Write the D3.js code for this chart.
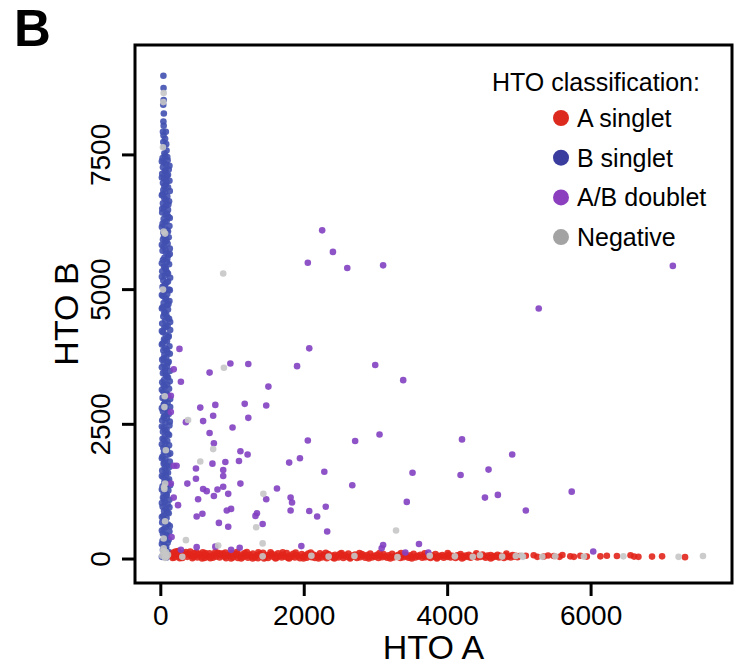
<!DOCTYPE html>
<html>
<head>
<meta charset="utf-8">
<script src="https://cdn.jsdelivr.net/npm/d3@7"></script>
<style>
    body { margin: 0; background: #fff; }
    svg { display: block; font-family: "Liberation Sans", Arial, sans-serif; }
</style>
</head>
<body>
<div class="container"></div>
<script>
const width = 735;
const height = 666;
const box = { left: 135, right: 732, top: 45, bottom: 583 };

const xTicks = [0, 2000, 4000, 6000];
const yTicks = [0, 2500, 5000, 7500];
const classNames = ['A singlet', 'B singlet', 'A/B doublet', 'Negative'];
const legendColors = ['#dd2a1e', '#3a3c9e', '#8b3fbf', '#a3a3a3'];
const pointColors = ['#e2251b', '#4150b0', '#8340c2', '#c6c6c6'];

// B singlets: narrow column at HTO A ~ 0
const bSinglet = [
    [36, 8970], [38, 8740], [40, 8520], [34, 8430], [42, 8270], [36, 8120], [40, 8040], [30, 7930],
    [70, 7930], [38, 7860], [60, 7800], [35, 7740], [75, 7700], [45, 7650], [80, 7580], [50, 7530],
    [60, 7480], [25, 7440], [95, 7400], [40, 7360], [75, 7320], [30, 7270], [110, 7230], [55, 7190],
    [20, 7150], [85, 7110], [45, 7060], [120, 7020], [30, 6980], [70, 6940], [100, 6900], [35, 6850],
    [60, 6810], [25, 6770], [90, 6730], [50, 6690], [115, 6640], [30, 6600], [75, 6560], [45, 6520],
    [100, 6480], [20, 6430], [65, 6390], [105, 6350], [40, 6310], [80, 6270], [25, 6220], [120, 6180],
    [55, 6140], [90, 6100], [35, 6060], [70, 6010], [110, 5970], [30, 5930], [60, 5890], [95, 5850],
    [40, 5800], [125, 5760], [25, 5720], [75, 5680], [105, 5640], [50, 5590], [30, 5550], [85, 5510],
    [115, 5470], [45, 5430], [70, 5380], [20, 5340], [100, 5300], [55, 5260], [130, 5220], [35, 5170],
    [80, 5130], [60, 5090], [25, 5050], [110, 5000], [45, 4960], [90, 4920], [30, 4880], [65, 4840],
    [120, 4790], [40, 4750], [85, 4710], [25, 4670], [100, 4630], [55, 4580], [75, 4540], [35, 4500],
    [115, 4460], [60, 4420], [20, 4370], [95, 4330], [50, 4290], [130, 4250], [30, 4210], [70, 4160],
    [105, 4120], [45, 4080], [85, 4040], [25, 4000], [120, 3950], [60, 3910], [35, 3870], [95, 3830],
    [50, 3790], [75, 3740], [20, 3700], [110, 3660], [40, 3620], [85, 3580], [60, 3530], [125, 3490],
    [30, 3450], [70, 3410], [100, 3370], [45, 3320], [20, 3280], [90, 3240], [55, 3200], [115, 3160],
    [35, 3110], [75, 3070], [105, 3030], [25, 2990], [60, 2950], [95, 2900], [40, 2860], [130, 2820],
    [70, 2780], [30, 2740], [110, 2690], [50, 2650], [85, 2610], [20, 2570], [65, 2530], [120, 2480],
    [40, 2440], [80, 2400], [30, 2360], [100, 2320], [55, 2270], [25, 2230], [90, 2190], [60, 2150],
    [115, 2110], [35, 2060], [75, 2020], [45, 1980], [105, 1940], [25, 1900], [65, 1850], [125, 1810],
    [40, 1770], [85, 1730], [55, 1690], [20, 1640], [100, 1600], [70, 1560], [35, 1520], [115, 1480],
    [50, 1430], [90, 1390], [25, 1350], [60, 1310], [105, 1270], [40, 1220], [80, 1180], [30, 1140],
    [120, 1100], [55, 1060], [95, 1010], [25, 970], [70, 930], [45, 890], [110, 850], [35, 800],
    [80, 760], [55, 720], [20, 680], [100, 640], [65, 590], [40, 550], [120, 510], [30, 470],
    [85, 430], [55, 380], [25, 340], [95, 300], [45, 260], [75, 220], [30, 170], [110, 130], [60, 90],
    [90, 7460], [15, 7380], [120, 7300], [65, 7210], [100, 7130], [15, 7080], [80, 7000], [50, 6920],
    [125, 6830], [15, 6750], [70, 6660], [105, 6580], [20, 6500], [85, 6410], [125, 6330], [55, 6250],
    [15, 6160], [100, 6080], [45, 5990], [80, 5910], [15, 5830], [65, 5740], [125, 5660], [90, 5570],
    [15, 5490], [60, 5410], [85, 5320], [15, 5240], [100, 5150], [50, 5070], [125, 4990], [15, 4900],
    [75, 4820], [105, 4730], [15, 4650], [50, 4560], [90, 4480], [130, 4400], [70, 4310], [15, 4230],
    [110, 4140], [60, 4060], [15, 3980], [80, 3890], [125, 3810], [40, 3720], [95, 3640], [15, 3560],
    [55, 3470], [85, 3390], [125, 3300], [40, 3220], [15, 3140], [90, 3050], [130, 2970], [50, 2880],
    [15, 2800], [95, 2720], [40, 2630], [125, 2550], [15, 2460], [60, 2380], [115, 2300], [45, 2210],
    [15, 2130], [85, 2040], [130, 1960], [15, 1870], [50, 1790], [120, 1710], [70, 1620], [15, 1540],
    [90, 1450], [130, 1370], [15, 1290], [80, 1200], [45, 1120], [15, 1040], [120, 960], [90, 870],
    [15, 780], [60, 700], [125, 610], [15, 530], [70, 450], [110, 360], [15, 280], [65, 190],
    [120, 100], [15, 40], [80, 30]
];

// A singlets: row at HTO B ~ 0
const aSinglet = [
    [150, 60], [175, 120], [190, 30], [215, 85], [240, 150], [255, 45], [280, 100], [300, 20],
    [325, 70], [350, 130], [370, 40], [395, 95], [420, 55], [440, 15], [465, 110], [490, 65],
    [510, 30], [540, 90], [560, 50], [585, 125], [610, 20], [630, 75], [655, 40], [680, 105],
    [700, 60], [725, 25], [750, 85], [770, 45], [795, 115], [820, 30], [840, 70], [865, 100],
    [890, 40], [910, 15], [935, 80], [960, 55], [985, 110], [1005, 30], [1030, 65], [1055, 95],
    [1075, 20], [1100, 50], [1125, 85], [1145, 35], [1170, 110], [1195, 60], [1215, 25], [1240, 80],
    [1265, 45], [1285, 100], [1310, 30], [1335, 70], [1355, 15], [1380, 90], [1405, 50], [1425, 115],
    [1450, 35], [1475, 75], [1495, 20], [1520, 60], [1545, 95], [1565, 40], [1590, 80], [1615, 25],
    [1635, 105], [1660, 55], [1685, 30], [1705, 85], [1730, 45], [1755, 110], [1775, 20], [1800, 65],
    [1825, 40], [1845, 95], [1870, 30], [1895, 75], [1915, 50], [1940, 15], [1965, 90], [1985, 40],
    [2010, 70], [2035, 25], [2055, 100], [2080, 55], [2105, 35], [2125, 85], [2150, 20], [2175, 65],
    [2195, 45], [2220, 105], [2245, 30], [2265, 75], [2290, 50], [2315, 15], [2335, 90], [2360, 40],
    [2385, 65], [2405, 25], [2430, 80], [2455, 50], [2475, 30], [2500, 95], [2525, 60], [2545, 20],
    [2570, 75], [2595, 40], [2615, 100], [2640, 30], [2665, 65], [2685, 45], [2710, 85], [2735, 20],
    [2755, 55], [2780, 35], [2805, 90], [2825, 60], [2850, 25], [2875, 75], [2895, 45], [2920, 100],
    [2945, 30], [2965, 60], [2990, 40], [3015, 80], [3035, 20], [3060, 55], [3085, 35], [3105, 90],
    [3130, 50], [3155, 25], [3175, 70], [3200, 40], [3225, 95], [3245, 30], [3270, 60], [3295, 45],
    [3315, 80], [3340, 20], [3365, 55], [3385, 35], [3410, 85], [3435, 50], [3455, 25], [3480, 70],
    [3505, 40], [3525, 95], [3550, 30], [3575, 60], [3595, 45], [3620, 80], [3645, 25], [3665, 55],
    [3690, 35], [3715, 75], [3735, 50], [3760, 20], [3785, 65], [3805, 40], [3830, 90], [3855, 30],
    [3875, 60], [3900, 45], [3925, 75], [3945, 25], [3970, 55], [3995, 40], [4015, 85], [4040, 30],
    [4065, 60], [4085, 45], [4110, 20], [4135, 70], [4155, 40], [4180, 90], [4205, 55], [4225, 30],
    [4250, 65], [4275, 40], [4295, 80], [4320, 25], [4345, 55], [4365, 45], [4390, 70], [4415, 30],
    [4435, 60], [4460, 40], [4485, 85], [4505, 50], [4530, 25], [4555, 65], [4575, 40], [4600, 75],
    [4625, 30], [4645, 55], [4670, 45], [4695, 80], [4715, 30], [4740, 60], [4765, 45], [4785, 20],
    [4810, 70], [4835, 40], [4855, 55], [4880, 30], [4905, 75], [4925, 45], [4950, 60], [4975, 35],
    [5000, 55], [5090, 60], [5200, 70], [5250, 40], [5340, 45], [5400, 65], [5480, 55], [5560, 40],
    [5600, 75], [5710, 50], [5760, 40], [5850, 60], [5940, 45], [6130, 50], [6220, 60], [6360, 55],
    [6550, 70], [6600, 45], [6660, 40], [6850, 45], [6990, 50], [7310, 35],
    [165, 20], [205, 140], [265, 15], [310, 110], [360, 90], [410, 140], [455, 40], [500, 120],
    [575, 10], [620, 110], [690, 15], [760, 130], [830, 100], [900, 120], [980, 10], [1060, 130],
    [1120, 10], [1200, 130], [1280, 10], [1360, 125], [1440, 10], [1530, 125], [1600, 10], [1700, 125],
    [1790, 10], [1880, 120], [1990, 10], [2090, 120], [2200, 10], [2300, 115], [2420, 10], [2520, 110],
    [2640, 10], [2770, 110], [2900, 10], [3050, 110], [3200, 10], [3350, 110], [3500, 10], [3680, 105],
    [3850, 10], [4000, 110], [4200, 10], [4400, 105], [4600, 10], [4820, 100]
];

const abDoublet = [
    [2250, 6100], [2400, 5700], [2050, 5500], [2600, 5400], [3100, 5450], [5270, 4650], [7140, 5440],
    [260, 3900], [2070, 3910], [180, 3520], [680, 3460], [970, 3630], [1220, 3620], [1900, 3580],
    [2990, 3600], [3380, 3320], [280, 3290], [1500, 3200], [140, 3030], [550, 2810], [760, 2860],
    [1170, 2880], [1470, 2850], [140, 2730], [350, 2540], [590, 2560], [730, 2660], [1220, 2620],
    [1000, 2440], [680, 2340], [2050, 2200], [2710, 2190], [3050, 2310], [4200, 2220], [740, 2150],
    [1110, 2000], [1210, 1940], [4900, 1940], [180, 1730], [220, 1730], [490, 1680], [720, 1770],
    [900, 1800], [1090, 1820], [1790, 1790], [1940, 1870], [870, 1650], [4570, 1660], [4180, 1560],
    [870, 1540], [490, 1490], [370, 1400], [140, 1400], [1110, 1400], [870, 1340], [1620, 1310],
    [2280, 1620], [2670, 1370], [3510, 1600], [5730, 1250], [590, 1300], [640, 1260], [790, 1290],
    [940, 1210], [740, 1170], [4700, 1190], [4520, 1140], [180, 1140], [520, 1110], [1470, 1110],
    [1810, 1140], [1830, 1050], [3430, 1060], [240, 1000], [980, 930], [920, 900], [1340, 850],
    [1320, 800], [580, 840], [500, 790], [1810, 900], [2070, 890], [2180, 790], [2300, 970],
    [5090, 900], [810, 670], [940, 600], [1420, 650], [2320, 510], [150, 410], [3100, 260],
    [3080, 200], [3600, 280], [1960, 240], [280, 170], [500, 220], [760, 230], [980, 170],
    [1100, 210], [6030, 140], [3730, 120], [3410, 120]
];

const negative = [
    [20, 60], [50, 100], [80, 40], [30, 150], [60, 20], [100, 80], [40, 200], [70, 130],
    [40, 8650], [35, 8480], [30, 7640], [40, 6080], [60, 6040], [30, 5000], [55, 3020], [50, 2820],
    [70, 2020], [60, 1400], [50, 1300], [45, 1330], [60, 700], [40, 380],
    [870, 5300], [880, 3550], [380, 2580], [730, 2040], [550, 1810], [1430, 1210], [1330, 590],
    [3280, 530], [350, 350], [1420, 290], [800, 250],
    [300, 40], [1420, 50], [2100, 60], [2340, 45], [2700, 55], [3300, 35], [3750, 60], [4100, 50],
    [4350, 40], [4450, 70], [4760, 45], [4950, 55], [5030, 65], [5050, 40], [5320, 40], [5500, 50],
    [5900, 45], [6450, 50], [7220, 40], [7560, 55]
];

const series = [aSinglet, bSinglet, abDoublet, negative];
const drawOrder = [1, 0, 2, 3];

const x = d3.scaleLinear().domain([-360, 7965]).range([box.left, box.right]);
const y = d3.scaleLinear().domain([-445, 9540]).range([box.bottom, box.top]);

const svg = d3.select('.container')
    .append('svg')
    .attr('width', width)
    .attr('height', height);

// points
drawOrder.forEach(k => {
    svg.append('g')
        .selectAll('circle')
        .data(series[k])
        .enter()
        .append('circle')
        .attr('cx', d => x(d[0]))
        .attr('cy', d => y(d[1]))
        .attr('r', 3.3)
        .attr('fill', pointColors[k])
        .attr('fill-opacity', 0.9);
});

// frame
svg.append('rect')
    .attr('x', box.left)
    .attr('y', box.top)
    .attr('width', box.right - box.left)
    .attr('height', box.bottom - box.top)
    .attr('fill', 'none')
    .attr('stroke', '#000')
    .attr('stroke-width', 3);

// x axis
const xAxis = svg.append('g');
xAxis.selectAll('line')
    .data(xTicks)
    .enter()
    .append('line')
    .attr('x1', d => x(d))
    .attr('x2', d => x(d))
    .attr('y1', box.bottom)
    .attr('y2', box.bottom + 13)
    .attr('stroke', '#000')
    .attr('stroke-width', 3);
xAxis.selectAll('text')
    .data(xTicks)
    .enter()
    .append('text')
    .attr('x', d => x(d))
    .attr('y', 625)
    .attr('text-anchor', 'middle')
    .attr('font-size', 28)
    .text(d => d);

// y axis
const yAxis = svg.append('g');
yAxis.selectAll('line')
    .data(yTicks)
    .enter()
    .append('line')
    .attr('x1', box.left - 13)
    .attr('x2', box.left)
    .attr('y1', d => y(d))
    .attr('y2', d => y(d))
    .attr('stroke', '#000')
    .attr('stroke-width', 3);
yAxis.selectAll('text')
    .data(yTicks)
    .enter()
    .append('text')
    .attr('transform', d => `translate(110,${y(d)}) rotate(-90)`)
    .attr('text-anchor', 'middle')
    .attr('font-size', 28)
    .text(d => d);

// axis titles
svg.append('text')
    .attr('x', (box.left + box.right) / 2)
    .attr('y', 659)
    .attr('text-anchor', 'middle')
    .attr('font-size', 34)
    .text('HTO A');
svg.append('text')
    .attr('transform', `translate(78,${(box.top + box.bottom) / 2}) rotate(-90)`)
    .attr('text-anchor', 'middle')
    .attr('font-size', 34)
    .text('HTO B');

// panel letter
svg.append('text')
    .attr('x', 14)
    .attr('y', 46)
    .attr('font-size', 51)
    .attr('font-weight', 'bold')
    .text('B');

// legend
svg.append('text')
    .attr('x', 492)
    .attr('y', 91)
    .attr('font-size', 25)
    .text('HTO classification:');
const legend = svg.append('g')
    .selectAll('g')
    .data(classNames)
    .enter()
    .append('g')
    .attr('transform', (d, i) => `translate(561,${118 + i * 39.7})`);
legend.append('circle')
    .attr('r', 8)
    .attr('fill', (d, i) => legendColors[i]);
legend.append('text')
    .attr('x', 16)
    .attr('y', 9)
    .attr('font-size', 25)
    .text(d => d);
</script>
</body>
</html>
